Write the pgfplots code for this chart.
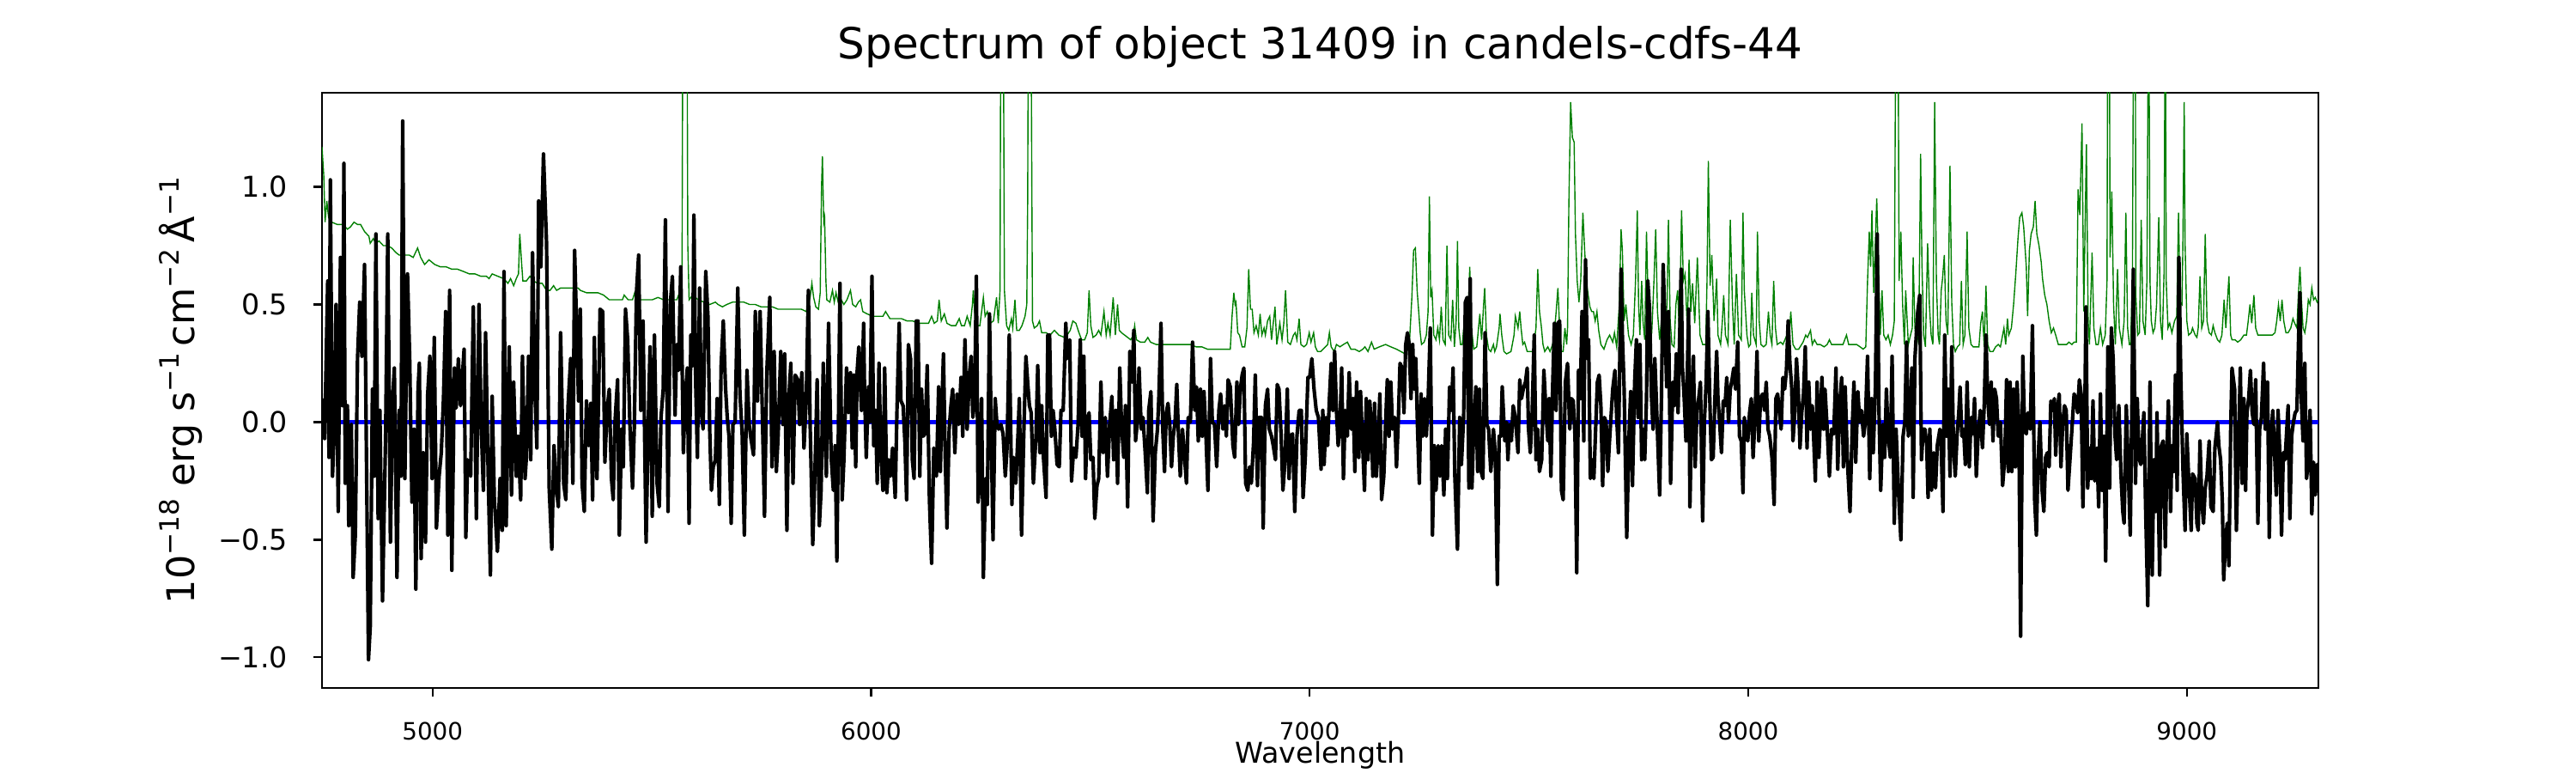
\documentclass[border=0pt]{standalone}
\usepackage{pgfplots}
\pgfplotsset{compat=1.18}
\usepackage{fontspec}
\setmainfont{DejaVu Sans}
\definecolor{mplgreen}{RGB}{0,128,0}
\definecolor{mplblue}{RGB}{0,0,255}
\newcommand{\su}[1]{\raisebox{0.40em}{\fontsize{11.2}{12}\selectfont #1}}
\begin{document}
\begin{tikzpicture}
\useasboundingbox (-135pt,-35.64pt) rectangle (945pt,288.36pt);
\begin{axis}[
  name=ax, at={(0,0)}, anchor=south west,
  width=837pt, height=249.48pt, scale only axis,
  xmin=4748, xmax=9300, ymin=-1.13, ymax=1.40,
  xtick={5000,6000,7000,8000,9000},
  xticklabels={5000,6000,7000,8000,9000},
  ytick={-1,-0.5,0,0.5,1},
  yticklabels={−1.0,−0.5,0.0,0.5,1.0},
  minor tick num=0,
  tick align=outside, major tick length=3.5pt,
  xtick pos=bottom, ytick pos=left,
  every tick/.style={line width=0.8pt, black},
  axis line style={line width=0.8pt},
  xticklabel style={font=\fontsize{10}{12}\selectfont, inner sep=0pt, anchor=base, yshift=-18.4pt},
  yticklabel style={font=\fontsize{12}{14}\selectfont, inner sep=0pt, anchor=base east, xshift=-10.7pt, yshift=-4.37pt},
  title={Spectrum of object 31409 in candels-cdfs-44},
  title style={font=\fontsize{18}{22}\selectfont, inner sep=0pt, at={(axis description cs:0.5,1)}, anchor=base, yshift=8.3pt},
  xlabel={Wavelength},
  xlabel style={font=\fontsize{12}{14}\selectfont, inner sep=0pt, at={(axis description cs:0.5,0)}, anchor=base, yshift=-31.5pt},
  every axis y label/.style={font=\fontsize{16}{19}\selectfont, inner sep=0pt, at={(axis description cs:0,0.5)}, xshift=-53.6pt, rotate=90, anchor=base},
  ylabel={10\su{−18} erg s\su{−1}\,cm\su{−2}\,Å\su{−1}},
  clip=true,
]
% green: sky / noise spectrum
\addplot[color=mplgreen, line width=0.5pt] coordinates {
(4748,1.17) (4752,1.05) (4755,0.85) (4759,0.94) (4763,0.87) (4770,0.85) (4783,0.84) (4796,0.84) (4806,0.82) (4813,0.83) (4821,0.85) (4829,0.84) (4836,0.84) (4845,0.81) (4855,0.79) (4858,0.76) (4865,0.78) (4871,0.76) (4878,0.77) (4888,0.75) (4898,0.75) (4907,0.74) (4917,0.72) (4924,0.71) (4933,0.71) (4947,0.71) (4956,0.70) (4966,0.74) (4973,0.70) (4982,0.67) (4992,0.69) (5005,0.67) (5018,0.66) (5031,0.66) (5044,0.65) (5057,0.65) (5071,0.64) (5084,0.63) (5097,0.63) (5110,0.62) (5123,0.62) (5129,0.61) (5136,0.63) (5149,0.62) (5162,0.61) (5172,0.59) (5178,0.61) (5185,0.58) (5191,0.61) (5196,0.63) (5199,0.80) (5203,0.68) (5206,0.60) (5214,0.60) (5222,0.62) (5230,0.60) (5240,0.59) (5250,0.59) (5260,0.56) (5268,0.56) (5276,0.58) (5283,0.56) (5292,0.57) (5305,0.57) (5322,0.57)
(5332,0.57) (5337,0.56) (5351,0.55) (5371,0.55) (5377,0.55) (5390,0.54) (5403,0.52) (5416,0.52) (5433,0.52) (5437,0.54) (5446,0.52) (5456,0.52) (5461,0.55) (5469,0.52) (5485,0.52) (5501,0.52) (5514,0.53) (5527,0.52) (5540,0.52) (5557,0.52) (5565,0.56) (5569,0.66) (5571,2.0) (5580,2.0) (5582,0.76) (5585,0.52) (5593,0.54) (5606,0.52) (5619,0.51) (5632,0.50) (5645,0.51) (5651,0.50) (5661,0.49) (5671,0.50) (5684,0.51) (5697,0.51) (5710,0.51) (5723,0.50) (5736,0.50) (5749,0.49) (5762,0.49) (5775,0.49) (5788,0.48) (5801,0.48) (5814,0.48) (5828,0.48) (5841,0.48) (5852,0.47) (5861,0.53) (5865,0.59) (5869,0.53) (5874,0.49) (5880,0.48) (5884,0.55) (5887,1.00) (5889,1.13) (5892,0.85) (5894,0.87) (5897,0.60) (5899,0.52)
(5906,0.51) (5912,0.56) (5916,0.51) (5920,0.55) (5925,0.51) (5932,0.52) (5938,0.50) (5945,0.52) (5953,0.56) (5958,0.50) (5965,0.49) (5971,0.51) (5976,0.52) (5981,0.47) (5991,0.46) (6004,0.45) (6017,0.45) (6027,0.45) (6033,0.47) (6043,0.44) (6056,0.44) (6069,0.44) (6082,0.43) (6095,0.43) (6108,0.42) (6121,0.42) (6131,0.42) (6138,0.45) (6144,0.42) (6151,0.43) (6155,0.52) (6160,0.43) (6167,0.46) (6173,0.42) (6183,0.41) (6193,0.41) (6201,0.44) (6206,0.41) (6213,0.41) (6219,0.45) (6226,0.41) (6231,0.50) (6233,0.56) (6236,0.47) (6242,0.41) (6248,0.41) (6256,0.53) (6260,0.45) (6265,0.47) (6271,0.42) (6279,0.43) (6286,0.53) (6290,0.42) (6294,0.56) (6296,2.0) (6301,2.0) (6304,0.56) (6309,0.41) (6314,0.39) (6320,0.44) (6323,0.40) (6328,0.52) (6332,0.39) (6338,0.39) (6344,0.41) (6351,0.45) (6355,0.50) (6357,0.93) (6359,2.0) (6364,2.0) (6368,0.43) (6372,0.40) (6379,0.41) (6384,0.43) (6389,0.38) (6399,0.38) (6408,0.37) (6418,0.39) (6428,0.37) (6441,0.36) (6447,0.37) (6454,0.39)
(6460,0.43) (6467,0.42) (6474,0.38) (6480,0.35) (6487,0.35) (6493,0.38) (6497,0.56) (6501,0.41) (6506,0.36) (6513,0.37) (6519,0.39) (6524,0.37) (6531,0.47) (6536,0.37) (6540,0.42) (6545,0.37) (6552,0.53) (6557,0.37) (6562,0.50) (6566,0.39) (6571,0.38) (6578,0.37) (6585,0.36) (6592,0.35) (6598,0.37) (6601,0.41) (6605,0.35) (6614,0.34) (6624,0.34) (6631,0.36) (6637,0.34) (6650,0.33) (6663,0.33) (6676,0.33) (6689,0.33) (6702,0.33) (6715,0.33) (6728,0.33) (6741,0.32) (6754,0.32) (6767,0.31) (6784,0.31) (6797,0.31) (6810,0.31) (6819,0.31) (6823,0.45) (6827,0.55) (6830,0.50) (6832,0.51) (6836,0.38) (6840,0.37) (6846,0.32) (6852,0.32) (6857,0.40) (6861,0.65) (6865,0.48) (6869,0.48) (6873,0.38) (6878,0.41) (6883,0.37) (6887,0.46) (6891,0.37) (6896,0.40) (6899,0.37) (6904,0.43) (6909,0.45) (6913,0.35) (6921,0.49) (6925,0.33) (6932,0.42) (6937,0.35) (6941,0.42) (6945,0.56) (6950,0.34) (6956,0.33) (6963,0.37) (6967,0.38) (6971,0.35) (6976,0.44) (6980,0.33) (6987,0.32) (6993,0.33) (6999,0.38) (7003,0.34) (7009,0.38) (7013,0.32) (7018,0.30) (7025,0.30)
(7036,0.32) (7041,0.33) (7045,0.38) (7049,0.32) (7056,0.30) (7061,0.33) (7069,0.32) (7077,0.33) (7086,0.34) (7094,0.31) (7103,0.31) (7113,0.30) (7121,0.31) (7126,0.32) (7133,0.30) (7141,0.34) (7147,0.31) (7159,0.32) (7173,0.33) (7185,0.32) (7198,0.31) (7208,0.30) (7218,0.29) (7227,0.32) (7233,0.53) (7237,0.73) (7241,0.74) (7245,0.56) (7249,0.46) (7252,0.38) (7255,0.33) (7261,0.34) (7266,0.37) (7270,0.47) (7273,0.96) (7276,0.53) (7279,0.56) (7283,0.37) (7288,0.35) (7292,0.40) (7296,0.35) (7300,0.49) (7304,0.35) (7309,0.33) (7313,0.75) (7317,0.37) (7322,0.35) (7326,0.52) (7330,0.32) (7334,0.43) (7337,0.77) (7340,0.40) (7344,0.33) (7348,0.33) (7355,0.48) (7361,0.44) (7365,0.66) (7369,0.40) (7374,0.31) (7381,0.32) (7385,0.40) (7388,0.46) (7392,0.35) (7396,0.48) (7399,0.57) (7403,0.37) (7408,0.31) (7413,0.30) (7419,0.33) (7422,0.30) (7426,0.32) (7432,0.40) (7434,0.46) (7438,0.37) (7443,0.30) (7449,0.29) (7459,0.30) (7466,0.37) (7469,0.45) (7475,0.40) (7479,0.47) (7482,0.40) (7486,0.33) (7490,0.34) (7496,0.30) (7509,0.30) (7516,0.40) (7520,0.65) (7524,0.47) (7528,0.41) (7532,0.33) (7536,0.30) (7543,0.32) (7548,0.30) (7554,0.33) (7558,0.38) (7562,0.47) (7566,0.57) (7570,0.40) (7574,0.30) (7578,0.30) (7582,0.40) (7586,0.33) (7588,0.40) (7591,0.93) (7595,1.36)
(7599,1.21) (7603,1.19) (7606,0.80) (7610,0.60) (7614,0.51) (7618,0.60) (7623,0.89) (7627,0.73) (7631,0.60) (7635,0.54) (7639,0.49) (7643,0.47) (7647,0.47) (7651,0.43) (7655,0.47) (7659,0.39) (7664,0.33) (7671,0.31) (7678,0.35) (7684,0.37) (7691,0.34) (7695,0.38) (7700,0.32) (7706,0.50) (7710,0.82) (7713,0.73) (7717,0.43) (7721,0.50) (7727,0.37) (7733,0.33) (7738,0.37) (7743,0.60) (7747,0.90) (7750,0.50) (7753,0.37) (7757,0.60) (7760,0.43) (7764,0.35) (7768,0.81) (7772,0.50) (7776,0.35) (7780,0.38) (7785,0.60) (7789,0.82) (7793,0.47) (7798,0.35) (7802,0.43) (7806,0.56) (7810,0.37) (7815,0.51) (7818,0.86) (7822,0.43) (7826,0.33) (7831,0.32) (7835,0.50) (7839,0.56) (7843,0.37) (7848,0.90) (7852,0.60) (7856,0.63) (7861,0.40) (7865,0.69) (7869,0.47) (7873,0.59) (7878,0.42) (7884,0.70) (7890,0.37) (7896,0.33) (7903,0.33) (7906,0.60) (7909,1.11) (7913,0.58) (7917,0.71) (7922,0.43) (7928,0.61) (7931,0.37) (7937,0.33) (7941,0.43) (7944,0.54) (7948,0.37) (7954,0.33) (7959,0.86) (7964,0.50) (7968,0.33) (7973,0.63) (7978,0.37) (7984,0.35) (7988,0.89) (7991,0.56) (7997,0.37) (8001,0.32) (8005,0.33) (8008,0.55) (8012,0.37) (8018,0.33) (8021,0.81) (8025,0.43) (8029,0.33) (8035,0.32) (8041,0.33) (8046,0.47) (8050,0.37) (8054,0.33) (8058,0.60) (8062,0.40) (8066,0.33) (8074,0.34) (8079,0.33) (8088,0.37) (8092,0.33) (8097,0.47) (8102,0.33) (8108,0.31) (8115,0.31) (8125,0.34) (8131,0.37) (8135,0.36) (8142,0.39) (8146,0.33) (8151,0.35) (8157,0.33)
(8164,0.33) (8173,0.32) (8180,0.33) (8185,0.35) (8190,0.33) (8196,0.33) (8206,0.33) (8216,0.33) (8224,0.37) (8229,0.33) (8239,0.33) (8247,0.33) (8255,0.32) (8262,0.31) (8268,0.32) (8272,0.60) (8276,0.81) (8279,0.66) (8282,0.90) (8286,0.55) (8293,0.95) (8297,0.68) (8301,0.37) (8305,0.56) (8309,0.37) (8314,0.35) (8319,0.37) (8324,0.33) (8329,0.37) (8333,0.43) (8337,2.0) (8341,2.0) (8344,0.60) (8348,0.81) (8352,0.50) (8356,0.33) (8359,0.56) (8365,0.33) (8370,0.37) (8374,0.40) (8376,0.70) (8380,0.40) (8384,0.32) (8389,0.40) (8393,1.14) (8396,0.68) (8400,0.37) (8404,0.32) (8409,0.76) (8413,0.50) (8417,0.37) (8421,0.33) (8425,1.36) (8429,0.60) (8433,0.37) (8436,0.33) (8440,0.56) (8443,0.61) (8447,0.71) (8451,0.43) (8455,0.37) (8460,1.09) (8464,0.51) (8468,0.33) (8472,0.30) (8477,0.32) (8482,0.33) (8486,0.60) (8490,0.33) (8494,0.37) (8499,0.81) (8503,0.40) (8508,0.33) (8513,0.32) (8519,0.32) (8526,0.32) (8530,0.42) (8534,0.47) (8538,0.32) (8542,0.58) (8546,0.33) (8551,0.30) (8558,0.30) (8564,0.32) (8570,0.33) (8575,0.32) (8580,0.37) (8583,0.40) (8587,0.33) (8591,0.44) (8594,0.37) (8600,0.40) (8605,0.50) (8610,0.63) (8615,0.78) (8619,0.87) (8624,0.89) (8628,0.83) (8634,0.66) (8637,0.45) (8641,0.73) (8645,0.80) (8650,0.83) (8654,0.94) (8658,0.80) (8663,0.75) (8668,0.68) (8671,0.61) (8676,0.54) (8681,0.50) (8686,0.43) (8691,0.38) (8696,0.40) (8701,0.37) (8707,0.33) (8713,0.33) (8720,0.33) (8726,0.33)
(8731,0.34) (8738,0.33) (8743,0.34) (8748,0.34) (8752,0.99) (8756,0.88) (8761,1.27) (8765,0.47) (8771,1.18) (8775,0.43) (8778,0.33) (8784,0.72) (8788,0.40) (8793,0.33) (8798,0.33) (8803,0.40) (8808,0.33) (8814,0.37) (8818,0.60) (8820,2.0) (8823,2.0) (8825,0.70) (8829,0.98) (8833,0.50) (8837,0.33) (8842,0.65) (8846,0.40) (8852,0.33) (8857,0.43) (8861,0.89) (8865,0.40) (8869,0.33) (8872,0.33) (8876,0.63) (8879,2.0) (8882,2.0) (8884,0.53) (8888,0.37) (8892,0.38) (8896,0.86) (8900,0.43) (8905,0.37) (8909,0.60) (8913,2.0) (8916,0.60) (8919,0.43) (8923,0.38) (8927,0.40) (8931,0.50) (8936,0.87) (8940,0.43) (8944,0.35) (8948,0.63) (8951,2.0) (8953,0.60) (8957,0.40) (8961,0.42) (8966,0.38) (8972,0.43) (8977,0.45) (8981,0.89) (8985,0.51) (8989,0.50) (8991,0.76) (8994,1.36) (8996,0.76) (9000,0.43) (9004,0.37) (9010,0.38) (9013,0.40) (9019,0.37) (9023,0.36) (9026,0.40) (9030,0.62) (9034,0.40) (9038,0.43) (9042,0.80) (9046,0.43) (9051,0.38) (9056,0.37) (9060,0.41) (9064,0.38) (9070,0.35) (9075,0.34) (9080,0.37) (9085,0.52) (9089,0.40) (9096,0.62) (9100,0.37) (9103,0.35) (9110,0.35) (9116,0.34) (9123,0.35) (9130,0.37) (9136,0.37) (9140,0.43) (9144,0.50) (9148,0.42) (9153,0.54) (9157,0.40) (9162,0.37) (9169,0.37) (9175,0.37) (9182,0.37) (9188,0.37) (9195,0.37) (9201,0.38) (9205,0.43) (9209,0.50) (9213,0.43) (9217,0.52) (9221,0.43) (9226,0.38) (9231,0.38) (9237,0.40) (9242,0.44) (9246,0.42) (9251,0.40) (9254,0.53) (9258,0.66) (9261,0.53) (9265,0.40) (9269,0.38) (9273,0.43) (9277,0.52) (9281,0.50) (9285,0.57) (9289,0.52) (9293,0.53) (9297,0.51) (9300,0.52)
};
% blue: zero line
\addplot[color=mplblue, line width=2pt] coordinates {(4788,0) (9300,0)};
% black: object spectrum
\addplot[color=black, line width=1.5pt, line join=round] coordinates {
(4748,0.10) (4754,-0.07) (4761,0.60) (4764,-0.15) (4767,1.03) (4772,-0.23) (4777,0.02) (4780,0.50) (4785,-0.38) (4790,0.70) (4795,0.07) (4798,1.10) (4801,-0.26) (4806,0.07) (4809,-0.44) (4815,-0.01) (4819,-0.66) (4824,-0.48) (4829,0.27) (4834,0.51) (4839,0.28) (4845,0.67) (4854,-1.01) (4858,-0.87) (4863,0.14) (4867,-0.23) (4871,0.80) (4876,-0.41) (4880,0.05) (4886,-0.76) (4893,-0.06) (4898,0.80) (4904,-0.51) (4909,0.10) (4913,0.23) (4919,-0.66) (4924,0.05) (4928,-0.23) (4932,1.28) (4937,-0.24) (4943,0.63) (4948,0.27) (4953,-0.34) (4958,-0.03) (4962,-0.71) (4967,0.14) (4970,0.25) (4974,-0.58) (4979,-0.13) (4984,-0.51) (4989,0.12) (4994,0.28) (4999,-0.24) (5004,0.36) (5009,-0.45) (5015,-0.23) (5020,-0.13) (5025,0.10) (5030,0.47) (5035,-0.48) (5039,0.56) (5044,-0.63) (5050,0.23) (5054,0.06) (5059,0.27) (5064,0.07) (5072,0.31) (5076,-0.49) (5080,-0.16) (5087,-0.23) (5093,0.49) (5100,-0.41) (5106,0.50) (5111,-0.01) (5116,-0.29) (5121,0.38) (5127,-0.23) (5132,-0.65) (5136,0.11) (5141,-0.33) (5148,-0.55) (5154,-0.24) (5159,-0.46) (5163,0.64) (5168,-0.44) (5175,0.32) (5180,-0.31) (5185,0.17) (5191,-0.23) (5195,-0.06) (5201,-0.33) (5205,0.28) (5211,-0.24) (5214,-0.15) (5219,0.28) (5224,-0.16) (5228,0.72) (5234,0.10) (5238,-0.11) (5242,0.94) (5247,0.66) (5253,1.14) (5260,0.76) (5266,-0.28) (5272,-0.54) (5277,-0.10) (5282,-0.28) (5287,-0.36) (5292,0.38) (5299,-0.26) (5304,-0.33) (5309,0.07) (5315,0.27) (5320,-0.26) (5324,0.73)
(5333,0.09) (5337,0.48) (5341,-0.26) (5346,-0.38) (5351,0.09) (5356,-0.10) (5361,0.08) (5365,-0.33) (5369,0.36) (5375,-0.24) (5379,0.14) (5382,0.48) (5388,0.47) (5393,-0.17) (5398,0.05) (5403,0.14) (5408,-0.24) (5412,-0.33) (5416,0.00) (5422,0.18) (5426,-0.48) (5431,-0.03) (5435,-0.19) (5440,0.48) (5445,0.35) (5450,-0.01) (5456,-0.28) (5460,-0.03) (5465,0.55) (5470,0.71) (5475,0.05) (5480,0.43) (5487,-0.51) (5492,0.00) (5496,0.32) (5501,-0.40) (5506,0.37) (5512,-0.26) (5517,-0.36) (5521,0.02) (5526,0.14) (5531,0.86) (5537,-0.38) (5542,0.50) (5547,0.62) (5553,0.03) (5557,0.33) (5561,0.22) (5566,0.66) (5572,-0.13) (5576,0.10) (5581,0.23) (5585,-0.43) (5589,0.37) (5593,0.24) (5596,0.88) (5600,0.17) (5604,-0.15) (5609,0.57) (5613,0.04) (5617,-0.03) (5623,0.64) (5628,0.45) (5632,-0.03) (5636,-0.29) (5640,-0.19) (5645,-0.16) (5649,0.10) (5654,-0.35) (5658,0.24) (5663,0.43) (5668,0.15) (5672,0.02) (5676,-0.06) (5681,-0.43) (5685,-0.01) (5690,0.00) (5696,0.57) (5701,0.12) (5706,-0.05) (5711,-0.48) (5717,0.22) (5722,-0.01) (5726,-0.07) (5732,-0.14) (5736,0.47) (5741,0.09) (5747,0.47) (5752,0.04) (5757,-0.40) (5762,0.20) (5769,0.53) (5774,-0.19) (5779,0.30) (5784,-0.21) (5788,-0.06) (5794,0.30) (5799,-0.01) (5803,0.29) (5808,-0.46) (5813,0.12) (5817,0.25) (5822,-0.26) (5827,0.20) (5833,0.18) (5837,-0.01) (5842,0.21) (5847,-0.11) (5852,0.09) (5857,0.56) (5861,-0.01) (5867,-0.52) (5872,-0.21) (5877,0.18) (5882,-0.44) (5886,-0.29) (5891,0.25)
(5898,-0.23) (5903,0.42) (5909,-0.15) (5914,-0.29) (5918,-0.10) (5922,-0.59) (5925,-0.11) (5929,0.59) (5934,-0.33) (5938,-0.16) (5944,0.23) (5948,0.04) (5953,0.21) (5957,-0.11) (5961,0.20) (5965,-0.19) (5968,0.21) (5972,0.32) (5978,0.05) (5983,0.42) (5985,0.14) (5989,-0.15) (5994,0.15) (5997,0.00) (6002,0.62) (6006,-0.10) (6010,0.05) (6014,-0.26) (6018,0.25) (6022,-0.11) (6027,-0.29) (6031,0.23) (6036,-0.30) (6040,-0.16) (6044,-0.23) (6049,-0.11) (6055,-0.32) (6059,0.05) (6064,0.42) (6068,0.09) (6073,0.07) (6077,-0.08) (6081,-0.33) (6085,0.33) (6090,0.27) (6094,-0.16) (6098,-0.24) (6103,0.43) (6107,0.43) (6111,-0.23) (6115,0.14) (6119,-0.06) (6123,-0.05) (6128,0.24) (6133,-0.33) (6138,-0.60) (6143,-0.11) (6149,-0.23) (6154,0.15) (6158,-0.21) (6160,-0.03) (6165,0.29) (6169,-0.15) (6173,-0.45) (6178,-0.03) (6182,0.07) (6186,0.14) (6191,-0.13) (6196,0.12) (6200,-0.01) (6205,0.19) (6209,-0.06) (6214,0.35) (6219,-0.03) (6224,0.20) (6228,0.28) (6232,0.02) (6236,0.09) (6240,0.62) (6244,-0.34) (6248,-0.23) (6252,0.10) (6256,-0.66) (6261,-0.24) (6265,-0.35) (6270,0.46) (6274,-0.06) (6278,-0.50) (6283,0.10) (6287,-0.01) (6291,-0.03) (6296,-0.01) (6301,-0.05) (6306,-0.23) (6310,-0.11) (6315,0.37) (6321,-0.35) (6325,-0.15) (6330,-0.26) (6335,-0.05) (6338,0.10) (6343,-0.48) (6348,-0.06) (6353,0.28) (6357,0.17) (6361,0.07) (6365,0.04) (6370,-0.26) (6376,-0.06) (6380,0.24) (6385,-0.13) (6389,0.07) (6393,-0.15) (6399,-0.32) (6403,0.37) (6407,0.37) (6411,-0.06) (6415,0.05) (6419,-0.03) (6424,-0.18) (6429,-0.19) (6433,0.05) (6438,0.05) (6444,0.42) (6447,0.27) (6453,0.35) (6457,-0.25)
(6462,-0.11) (6467,-0.15) (6472,-0.01) (6477,0.35) (6481,-0.06) (6485,0.28) (6489,-0.24) (6493,0.00) (6497,0.04) (6501,-0.16) (6506,-0.15) (6510,-0.41) (6515,-0.27) (6519,-0.24) (6524,0.17) (6529,-0.13) (6534,0.02) (6539,-0.23) (6544,-0.01) (6549,0.11) (6553,-0.16) (6558,0.05) (6562,-0.26) (6567,0.23) (6571,-0.01) (6576,-0.15) (6580,0.07) (6585,-0.36) (6590,0.30) (6595,0.17) (6599,0.39) (6603,-0.08) (6607,0.00) (6611,0.23) (6616,-0.03) (6620,0.02) (6625,-0.13) (6630,-0.30) (6633,0.05) (6638,0.13) (6643,-0.42) (6648,-0.13) (6653,-0.03) (6656,0.10) (6661,0.42) (6665,-0.03) (6669,-0.21) (6673,0.04) (6677,0.08) (6681,-0.01) (6685,-0.19) (6689,-0.06) (6693,0.00) (6697,0.16) (6701,-0.06) (6705,-0.23) (6710,-0.03) (6714,-0.13) (6719,-0.26) (6723,0.02) (6728,0.00) (6733,0.34) (6738,0.05) (6742,0.15) (6746,-0.08) (6751,0.14) (6755,-0.06) (6759,0.13) (6763,-0.03) (6768,-0.29) (6774,0.27) (6778,0.00) (6783,-0.01) (6788,-0.19) (6793,0.05) (6797,0.12) (6802,-0.03) (6806,0.07) (6810,-0.06) (6814,0.18) (6819,0.15) (6825,-0.10) (6829,-0.15) (6834,0.17) (6838,-0.01) (6842,0.14) (6846,0.20) (6850,0.23) (6854,-0.26) (6859,-0.29) (6863,-0.19) (6867,-0.26) (6872,-0.09) (6876,0.20) (6881,-0.27) (6885,0.02) (6890,0.02) (6894,-0.45) (6899,0.07) (6904,0.14) (6908,-0.03) (6913,-0.06) (6917,-0.10) (6922,-0.16) (6926,0.16) (6930,0.14) (6935,-0.06) (6939,-0.29) (6944,-0.16) (6949,0.14) (6953,-0.24) (6956,-0.06) (6961,-0.05) (6966,-0.38) (6971,-0.06) (6976,0.05) (6981,0.05) (6985,-0.32) (6990,-0.15) (6996,0.19) (7000,0.19) (7005,0.27) (7010,0.14) (7015,0.05) (7020,0.02) (7026,-0.20)
(7030,0.05) (7033,-0.18) (7037,0.02) (7041,-0.10) (7045,0.10) (7049,0.25) (7053,0.05) (7057,0.30) (7061,0.05) (7065,-0.10) (7069,-0.01) (7073,0.23) (7077,-0.24) (7081,0.05) (7086,-0.06) (7090,0.21) (7095,-0.03) (7099,0.10) (7103,-0.21) (7107,0.17) (7112,-0.15) (7116,0.13) (7120,-0.06) (7125,-0.29) (7129,0.10) (7133,-0.16) (7137,0.09) (7141,-0.03) (7144,-0.23) (7148,0.08) (7152,-0.23) (7156,-0.10) (7160,0.12) (7164,-0.33) (7169,-0.23) (7173,-0.01) (7177,0.18) (7181,-0.06) (7185,0.17) (7189,-0.03) (7194,0.02) (7198,-0.19) (7202,0.00) (7206,0.25) (7211,0.23) (7215,0.04) (7219,0.33) (7223,0.38) (7227,0.33) (7231,0.10) (7235,0.33) (7238,0.14) (7242,0.27) (7246,-0.03) (7250,-0.26) (7254,0.12) (7258,-0.06) (7262,0.10) (7266,-0.06) (7270,0.09) (7275,0.40) (7280,-0.48) (7284,-0.10) (7288,-0.29) (7293,-0.10) (7297,-0.23) (7301,-0.10) (7306,-0.31) (7310,-0.03) (7314,-0.24) (7319,0.15) (7323,0.05) (7327,0.23) (7331,-0.23) (7337,-0.54) (7342,0.02) (7346,-0.18) (7351,0.02) (7355,0.51) (7359,0.53) (7363,-0.28) (7366,0.61) (7370,-0.28) (7374,-0.03) (7379,0.15) (7383,-0.21) (7387,0.14) (7391,-0.21) (7395,-0.24) (7400,0.38) (7404,-0.01) (7408,-0.03) (7413,-0.21) (7419,-0.03) (7423,-0.13) (7428,-0.69) (7432,-0.06) (7436,-0.06) (7439,0.15) (7445,-0.08) (7449,0.00) (7452,-0.16) (7456,-0.01) (7460,-0.08) (7464,0.07) (7469,0.02) (7475,-0.13) (7479,0.18) (7483,0.10) (7487,0.14) (7492,0.17) (7496,0.23) (7499,-0.03) (7503,-0.13) (7507,0.02) (7512,0.37) (7516,-0.16) (7520,-0.03) (7524,-0.21) (7529,-0.16) (7534,0.22) (7539,0.04) (7543,-0.08) (7546,0.10) (7550,-0.23) (7554,0.15) (7558,0.42) (7562,0.05) (7566,0.42) (7570,0.43) (7574,-0.29) (7578,-0.33) (7583,0.17) (7588,0.25) (7593,-0.03)
(7597,0.10) (7601,0.09) (7605,-0.06) (7609,-0.64) (7613,0.22) (7617,0.10) (7621,0.47) (7625,-0.08) (7629,0.69) (7633,0.27) (7636,0.35) (7640,-0.24) (7644,-0.16) (7648,-0.24) (7652,-0.03) (7656,0.17) (7660,0.20) (7664,0.07) (7668,-0.27) (7672,0.02) (7676,0.00) (7680,-0.21) (7683,-0.10) (7687,0.02) (7691,0.14) (7696,0.22) (7700,0.02) (7704,-0.13) (7710,0.65) (7713,0.37) (7717,0.14) (7723,-0.49) (7728,-0.06) (7732,0.13) (7736,-0.27) (7741,0.17) (7745,0.35) (7749,0.02) (7753,0.33) (7757,-0.16) (7760,-0.03) (7764,-0.16) (7768,0.10) (7771,0.60) (7775,0.48) (7779,0.12) (7783,-0.03) (7787,0.27) (7790,0.12) (7794,-0.10) (7798,-0.31) (7802,0.09) (7806,0.67) (7810,0.43) (7814,0.15) (7818,0.47) (7823,-0.26) (7828,0.17) (7832,0.07) (7836,0.29) (7840,0.04) (7844,0.40) (7847,0.65) (7850,0.23) (7854,0.10) (7858,-0.08) (7864,0.48) (7867,-0.36) (7871,0.04) (7875,0.28) (7879,-0.19) (7883,0.05) (7887,0.10) (7891,0.17) (7896,-0.42) (7900,0.00) (7904,0.17) (7908,0.47) (7912,0.12) (7916,-0.16) (7920,-0.15) (7924,0.10) (7928,0.30) (7931,0.10) (7935,-0.01) (7939,-0.13) (7943,0.09) (7947,0.07) (7951,0.19) (7955,0.00) (7959,0.14) (7963,0.18) (7967,0.23) (7971,0.14) (7976,0.34) (7980,-0.06) (7984,-0.08) (7988,-0.30) (7991,0.02) (7995,-0.06) (7999,-0.08) (8003,0.04) (8007,0.10) (8011,-0.15) (8015,0.00) (8020,0.30) (8024,-0.08) (8028,0.10) (8033,0.12) (8037,0.05) (8041,0.17) (8045,-0.03) (8049,-0.06) (8054,-0.15) (8059,-0.35) (8063,0.10) (8067,0.12) (8071,0.04) (8075,-0.03) (8079,0.19) (8083,0.14) (8087,0.22) (8091,0.43) (8095,0.25) (8099,0.15) (8102,-0.08) (8106,0.04) (8110,0.27) (8114,0.14) (8118,-0.11) (8122,0.04) (8126,0.12) (8130,0.32) (8134,-0.11) (8138,0.17) (8142,-0.03) (8146,0.07) (8149,-0.06) (8153,-0.25) (8157,0.17) (8161,-0.15)
(8168,0.19) (8172,-0.03) (8175,0.14) (8180,-0.03) (8185,-0.23) (8190,-0.03) (8195,-0.05) (8200,0.23) (8204,-0.20) (8209,0.09) (8213,0.19) (8217,-0.19) (8221,0.15) (8226,-0.16) (8232,-0.38) (8237,-0.03) (8241,0.17) (8245,-0.17) (8250,0.13) (8254,0.00) (8258,0.05) (8263,-0.06) (8267,0.00) (8272,0.28) (8277,-0.24) (8281,0.10) (8285,-0.13) (8290,0.15) (8294,0.80) (8298,0.05) (8302,-0.29) (8307,-0.01) (8311,-0.15) (8315,0.14) (8319,-0.06) (8324,-0.15) (8328,0.28) (8333,-0.43) (8337,-0.03) (8343,-0.31) (8348,-0.50) (8353,-0.06) (8357,0.00) (8361,0.34) (8365,-0.06) (8369,0.00) (8373,0.23) (8376,-0.32) (8380,0.27) (8386,0.46) (8391,0.54) (8395,-0.16) (8399,-0.03) (8403,-0.03) (8407,-0.10) (8410,-0.32) (8414,-0.03) (8418,-0.29) (8423,-0.13) (8427,-0.28) (8431,-0.10) (8437,-0.03) (8440,-0.11) (8444,-0.38) (8448,0.37) (8452,-0.06) (8456,0.14) (8460,-0.23) (8464,0.32) (8468,-0.10) (8472,-0.23) (8476,-0.06) (8480,0.04) (8483,0.15) (8487,-0.06) (8491,-0.03) (8495,-0.18) (8499,0.17) (8504,-0.19) (8508,0.02) (8512,-0.05) (8516,0.10) (8520,-0.23) (8524,-0.06) (8529,0.05) (8534,-0.11) (8538,0.07) (8542,0.37) (8546,0.10) (8550,-0.01) (8554,0.17) (8558,-0.08) (8562,0.14) (8566,0.10) (8570,-0.06) (8575,0.00) (8580,-0.27) (8585,-0.15) (8589,0.18) (8593,-0.21) (8597,0.17) (8601,-0.21) (8605,0.14) (8609,-0.19) (8613,0.17) (8617,-0.01) (8621,-0.91) (8626,0.28) (8630,-0.03) (8634,-0.05) (8638,0.04) (8643,-0.03) (8648,0.41) (8653,-0.33) (8657,-0.48) (8661,-0.15) (8665,0.00) (8670,-0.29) (8674,-0.38) (8678,-0.15) (8682,-0.13) (8686,-0.19) (8690,0.09) (8694,0.05) (8698,0.10) (8701,-0.14) (8705,0.05) (8709,0.12) (8713,-0.19) (8717,-0.01) (8721,0.07) (8725,0.05) (8729,-0.29)
(8738,-0.03) (8743,0.12) (8747,0.10) (8751,0.04) (8755,0.18) (8759,0.12) (8763,-0.36) (8767,-0.03) (8770,0.49) (8774,-0.28) (8778,-0.11) (8782,-0.24) (8786,0.09) (8790,-0.25) (8795,-0.11) (8799,-0.36) (8803,0.12) (8807,-0.29) (8811,-0.06) (8815,-0.59) (8820,0.32) (8824,-0.28) (8828,0.40) (8832,0.27) (8836,-0.05) (8840,-0.16) (8845,0.07) (8850,-0.23) (8854,-0.38) (8857,-0.43) (8862,0.07) (8867,-0.23) (8871,-0.48) (8875,0.10) (8878,0.65) (8883,-0.26) (8887,0.10) (8891,-0.15) (8895,-0.18) (8899,-0.06) (8902,0.04) (8906,-0.36) (8911,-0.78) (8916,0.17) (8921,-0.65) (8925,-0.16) (8929,-0.38) (8932,0.04) (8938,-0.65) (8942,-0.10) (8946,-0.08) (8951,-0.53) (8955,-0.10) (8958,0.09) (8963,-0.38) (8966,-0.10) (8970,-0.21) (8974,0.20) (8978,-0.29) (8982,0.70) (8986,0.22) (8991,-0.19) (8996,-0.46) (9000,-0.05) (9004,-0.23) (9010,-0.46) (9013,-0.22) (9019,-0.24) (9023,-0.43) (9026,-0.46) (9030,-0.08) (9034,-0.33) (9038,-0.43) (9042,-0.28) (9046,-0.23) (9051,-0.08) (9055,-0.36) (9060,-0.38) (9064,-0.11) (9070,0.00) (9073,-0.10) (9077,-0.16) (9081,-0.34) (9084,-0.67) (9088,-0.52) (9092,-0.43) (9096,-0.61) (9100,-0.03) (9103,0.23) (9109,0.14) (9113,-0.46) (9117,-0.15) (9122,0.23) (9126,-0.26) (9130,0.10) (9134,-0.29) (9137,0.04) (9141,0.10) (9145,0.22) (9149,0.04) (9153,-0.01) (9157,0.18) (9162,-0.43) (9166,-0.03) (9170,0.02) (9175,0.25) (9179,-0.03) (9184,0.17) (9188,-0.49) (9192,-0.06) (9196,0.05) (9200,-0.13) (9204,-0.31) (9208,0.05) (9212,-0.13) (9216,-0.48) (9220,-0.13) (9224,-0.16) (9227,-0.06) (9231,0.07) (9235,-0.41) (9239,-0.06) (9243,0.00) (9247,0.04) (9251,0.05) (9255,0.37) (9258,0.55) (9261,0.10) (9265,-0.08) (9269,0.25) (9273,-0.24) (9277,-0.16) (9281,0.05) (9285,-0.39) (9289,-0.17) (9293,-0.31) (9297,-0.18) (9300,-0.30)
};
\end{axis}
\end{tikzpicture}
\end{document}
